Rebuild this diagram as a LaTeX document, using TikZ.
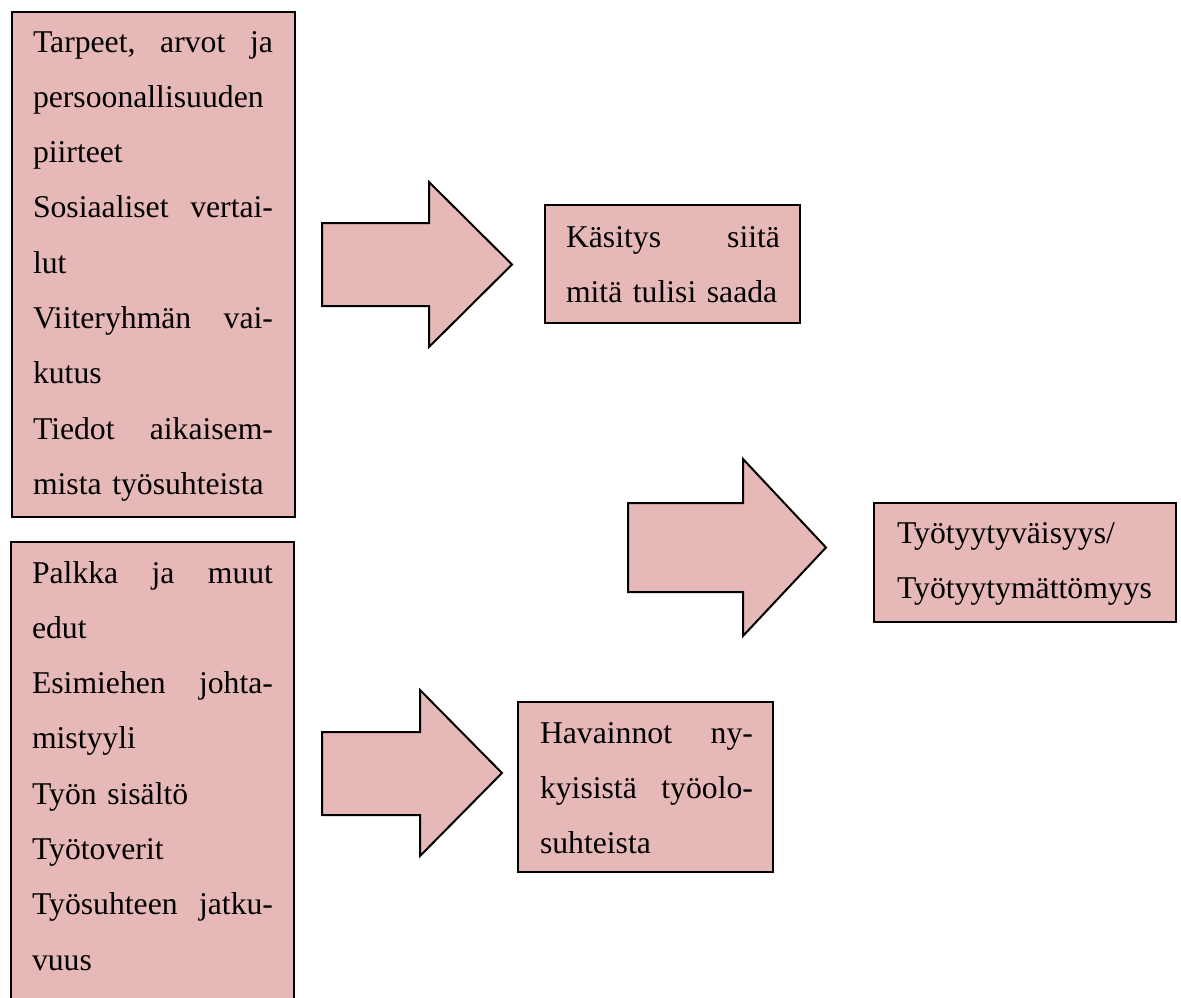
\documentclass[tikz,border=0pt]{standalone}
\usepackage{fontspec}
\setmainfont{Liberation Serif}
\definecolor{boxpink}{RGB}{230,184,183}
\tikzset{
  box/.style={draw=black, line width=2pt, fill=boxpink, rectangle, inner sep=0pt, outer sep=0pt, anchor=north west},
  txt/.style={inner sep=0pt, outer sep=0pt, anchor=north west, align=left, font=\fontsize{31.7}{55.3}\selectfont},
  blockarrow/.style={draw=black, line width=2pt, fill=boxpink, line join=miter}
}
\begin{document}
\begin{tikzpicture}[x=1pt,y=-1pt]
\useasboundingbox (0,0) rectangle (1181,998);
\clip (0,0) rectangle (1181,998);
% boxes
\node[box, minimum width=283pt, minimum height=505pt] (b1) at (12,12) {};
\node[box, minimum width=283pt, minimum height=470pt] (b2) at (11,542) {};
\node[box, minimum width=255pt, minimum height=118pt] (b3) at (545,205) {};
\node[box, minimum width=302pt, minimum height=119pt] (b4) at (874,503) {};
\node[box, minimum width=255pt, minimum height=170pt] (b5) at (518,702) {};
% texts
\node[txt, text width=240pt] (t1) at (33,13.3) {\strut Tarpeet,\hfill arvot\hfill ja\\
persoonallisuuden\\
piirteet\\
Sosiaaliset\hfill vertai-\\
lut\\
Viiteryhmän\hfill vai-\\
kutus\\
Tiedot\hfill aikaisem-\\
mista työsuhteista};
\node[txt, text width=241pt] (t2) at (32,544.3) {\strut Palkka\hfill ja\hfill muut\\
edut\\
Esimiehen\hfill johta-\\
mistyyli\\
Työn sisältö\\
Työtoverit\\
Työsuhteen\hfill jatku-\\
vuus};
\node[txt, text width=214pt] (t3) at (566,208.3) {\strut Käsitys\hfill siitä\\
mitä tulisi saada};
\node[txt, text width=265pt] (t4) at (897,504.3) {\strut Työtyytyväisyys/\\
Työtyytymättömyys};
\node[txt, text width=213pt] (t5) at (540,704.3) {\strut Havainnot\hfill ny-\\
kyisistä\hfill työolo-\\
suhteista};
% block arrows
\draw[blockarrow] (322,223) -- (429,223) -- (429,182) -- (512,264.5) -- (429,347) -- (429,306) -- (322,306) -- cycle;
\draw[blockarrow] (628,503) -- (743,503) -- (743,459) -- (826,547.5) -- (743,636) -- (743,592) -- (628,592) -- cycle;
\draw[blockarrow] (322,732) -- (420,732) -- (420,690) -- (502,773) -- (420,856) -- (420,815) -- (322,815) -- cycle;
\end{tikzpicture}
\end{document}
